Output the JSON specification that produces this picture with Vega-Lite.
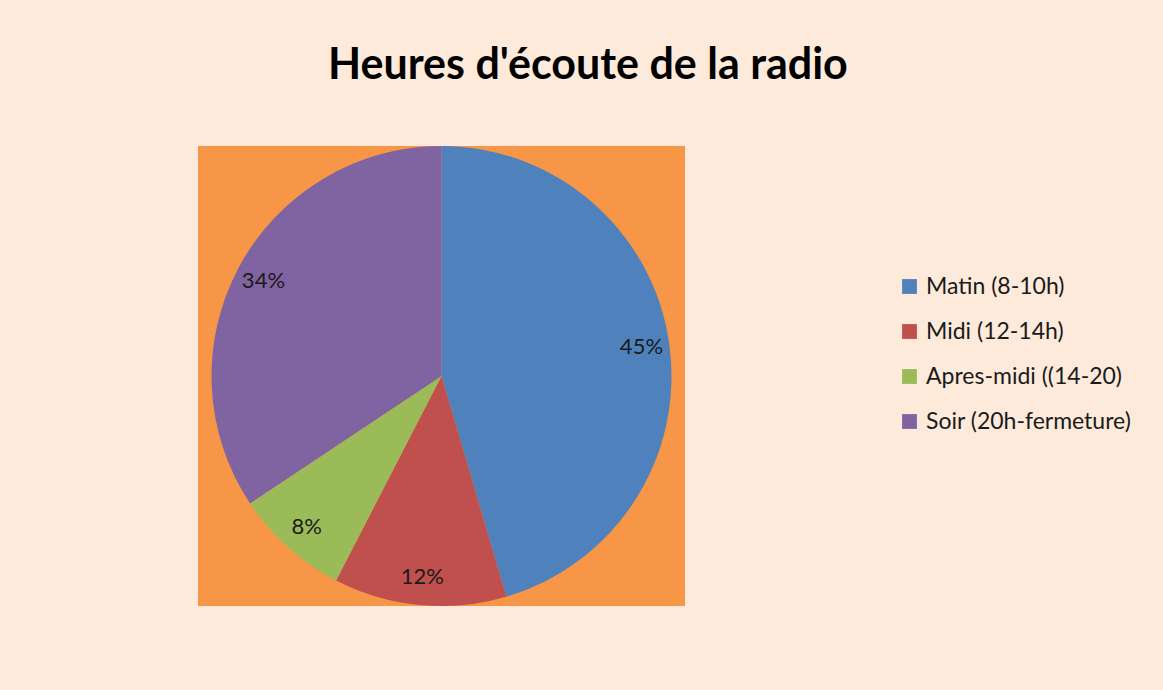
{
  "$schema": "https://vega.github.io/schema/vega-lite/v6.json",
  "width": 487,
  "height": 460,
  "autosize": {"type": "none"},
  "padding": {"left": 198, "top": 146, "right": 478, "bottom": 84},
  "background": "#FDEADA",
  "view": {"fill": "#F79646", "stroke": null},
  "config": {
    "font": "Lato"
  },
  "title": {
    "text": "Heures d'écoute de la radio",
    "anchor": "start",
    "dx": 130,
    "offset": 24,
    "baseline": "alphabetic",
    "fontSize": 43,
    "fontWeight": "bold",
    "font": "Lato",
    "color": "#000000"
  },
  "data": {
    "values": [
      {"periode": "Matin (8-10h)", "part": 45, "label": "45%", "ordre": 1},
      {"periode": "Midi (12-14h)", "part": 12, "label": "12%", "ordre": 2},
      {"periode": "Apres-midi ((14-20)", "part": 8, "label": "8%", "ordre": 3},
      {"periode": "Soir (20h-fermeture)", "part": 34, "label": "34%", "ordre": 4}
    ]
  },
  "encoding": {
    "theta": {"field": "part", "type": "quantitative", "stack": true},
    "order": {"field": "ordre", "type": "quantitative"}
  },
  "layer": [
    {
      "mark": {"type": "arc", "outerRadius": 230},
      "encoding": {
        "color": {
          "field": "periode",
          "type": "nominal",
          "sort": ["Matin (8-10h)", "Midi (12-14h)", "Apres-midi ((14-20)", "Soir (20h-fermeture)"],
          "scale": {
            "domain": ["Matin (8-10h)", "Midi (12-14h)", "Apres-midi ((14-20)", "Soir (20h-fermeture)"],
            "range": ["#4F81BD", "#C0504D", "#9BBB59", "#8064A2"]
          },
          "legend": {
            "title": null,
            "orient": "none",
            "legendX": 700,
            "legendY": 129,
            "symbolType": "square",
            "symbolSize": 220,
            "symbolStrokeWidth": 0,
            "labelFontSize": 23,
            "labelFont": "Lato",
            "labelColor": "#1a1a1a",
            "rowPadding": 21,
            "labelOffset": 5,
            "labelLimit": 400
          }
        }
      }
    },
    {
      "mark": {"type": "text", "radius": 202, "fontSize": 22, "font": "Lato", "color": "#1a1a1a"},
      "encoding": {
        "text": {"field": "label", "type": "nominal"}
      }
    }
  ]
}
